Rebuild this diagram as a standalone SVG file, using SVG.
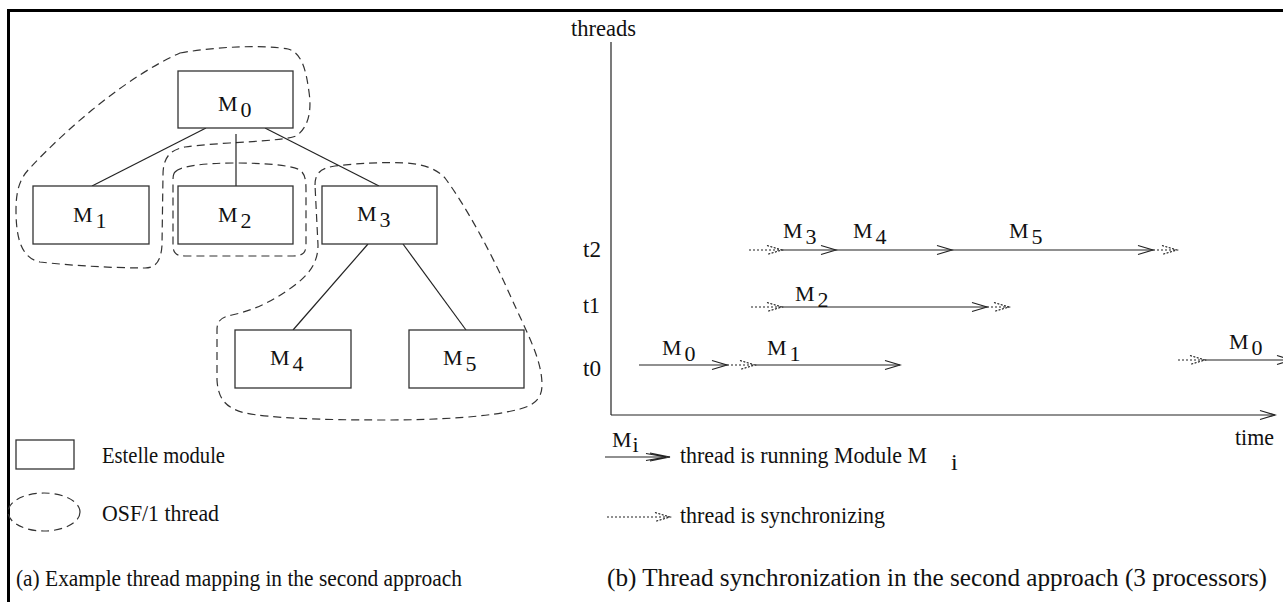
<svg xmlns="http://www.w3.org/2000/svg" width="1283" height="602" viewBox="0 0 1283 602">
<style>
text{font-family:"Liberation Serif","Times New Roman",serif;font-size:24px;fill:#111}
.lbl{font-size:22px}
.box{fill:#fff;stroke:#333;stroke-width:1.3}
.ln{stroke:#222;stroke-width:1.2;fill:none}
.dash{stroke:#333;stroke-width:1.2;fill:none;stroke-dasharray:8 5}
.run{stroke:#222;stroke-width:1.2;fill:none;marker-end:url(#ah)}
.sync{stroke:#222;stroke-width:1.2;fill:none;stroke-dasharray:2 2;marker-end:url(#ahd)}
</style>
<defs>
<marker id="ah" markerUnits="userSpaceOnUse" markerWidth="18" markerHeight="12" refX="16" refY="6" orient="auto">
<path d="M1,1.5 L16,6 L1,10.5" fill="none" stroke="#222" stroke-width="1.2"/>
</marker>
<marker id="ahd" markerUnits="userSpaceOnUse" markerWidth="18" markerHeight="12" refX="16" refY="6" orient="auto">
<path d="M1,1.5 L16,6 L1,10.5" fill="none" stroke="#222" stroke-width="1.2" stroke-dasharray="2 1.5"/>
</marker>
</defs>
<rect width="1283" height="602" fill="#fff"/>
<g id="frame">
<line x1="8" y1="10.5" x2="1283" y2="10.5" stroke="#000" stroke-width="3"/>
<line x1="8.5" y1="9" x2="8.5" y2="602" stroke="#000" stroke-width="3"/>
</g>
<g id="threads">
<path class="dash" d="M180,53 C220,46 265,45 288,49 C302,53 306,70 309,92 C312,112 308,128 296,136 C280,142 220,142 185,147 C168,150 163,160 163,175 L162,245 C161,262 155,268 145,268 C110,268 65,265 40,262 C22,258 16,240 16,210 C16,190 20,178 30,168 C70,125 130,75 180,53 Z"/>
<path class="dash" d="M175,172 C180,166 205,163 235,163 C265,163 290,165 300,170 C305,174 306,180 306,190 L306,245 C306,253 302,256 293,256 L185,256 C176,256 173,253 173,245 L173,182 C173,177 173,174 175,172 Z"/>
<path class="dash" d="M315,185 C315,172 322,168 335,166 C360,163 385,162 405,163 C425,164 438,170 445,178 C465,205 490,250 510,295 C528,335 542,360 542,385 C542,398 535,405 520,409 C490,417 440,420 385,420 C320,420 270,418 245,413 C225,408 218,398 217,380 L217,330 C217,320 222,317 232,315 C255,310 275,300 295,285 C312,272 318,260 318,245 Z"/>
</g>
<g id="edges">
<line class="ln" x1="206" y1="128" x2="92" y2="186"/>
<line class="ln" x1="236" y1="134" x2="236" y2="186"/>
<line class="ln" x1="265" y1="128" x2="379" y2="186"/>
<line class="ln" x1="368" y1="244" x2="293" y2="330"/>
<line class="ln" x1="403" y1="244" x2="466" y2="330"/>
</g>
<g id="M0"><rect class="box" x="178" y="71" width="115" height="57"/><text class="lbl" x="218" y="111">M<tspan dx="3" dy="6">0</tspan></text></g>
<g id="M1"><rect class="box" x="33" y="186" width="116" height="58"/><text class="lbl" x="73" y="222">M<tspan dx="3" dy="6">1</tspan></text></g>
<g id="M2"><rect class="box" x="178" y="186" width="115" height="58"/><text class="lbl" x="218" y="222">M<tspan dx="3" dy="6">2</tspan></text></g>
<g id="M3"><rect class="box" x="322" y="186" width="115" height="58"/><text class="lbl" x="357" y="221">M<tspan dx="3" dy="6">3</tspan></text></g>
<g id="M4"><rect class="box" x="235" y="330" width="116" height="58"/><text class="lbl" x="270" y="365">M<tspan dx="3" dy="6">4</tspan></text></g>
<g id="M5"><rect class="box" x="409" y="330" width="115" height="58"/><text class="lbl" x="443" y="365">M<tspan dx="3" dy="6">5</tspan></text></g>
<g id="legend-a">
<rect class="box" x="16" y="440" width="58" height="29"/>
<text x="102" y="463" textLength="123" lengthAdjust="spacingAndGlyphs">Estelle module</text>
<ellipse class="dash" cx="44" cy="512" rx="36" ry="19"/>
<text x="102" y="521" textLength="117" lengthAdjust="spacingAndGlyphs">OSF/1 thread</text>
<text x="16" y="586" textLength="446" lengthAdjust="spacingAndGlyphs">(a) Example thread mapping in the second approach</text>
</g>
<g id="axes">
<line class="ln" x1="611" y1="42" x2="611" y2="415"/>
<line class="run" x1="611" y1="415" x2="1275" y2="415"/>
<text x="571" y="36" textLength="65" lengthAdjust="spacingAndGlyphs">threads</text>
<text x="1235" y="445" textLength="39" lengthAdjust="spacingAndGlyphs">time</text>
<text x="583" y="257" textLength="18" lengthAdjust="spacingAndGlyphs">t2</text>
<text x="583" y="313" textLength="17" lengthAdjust="spacingAndGlyphs">t1</text>
<text x="583" y="376" textLength="18" lengthAdjust="spacingAndGlyphs">t0</text>
</g>
<g id="connectors">
<line class="sync" x1="749" y1="250" x2="782" y2="250"/>
<line class="run" x1="782" y1="250" x2="836" y2="250"/>
<line class="run" x1="836" y1="250" x2="952" y2="250"/>
<line class="run" x1="952" y1="250" x2="1153" y2="250"/>
<line class="sync" x1="1153" y1="250" x2="1177" y2="250"/>
<line class="sync" x1="751" y1="307" x2="782" y2="307"/>
<line class="run" x1="782" y1="307" x2="987" y2="307"/>
<line class="sync" x1="987" y1="307" x2="1009" y2="307"/>
<line class="run" x1="639" y1="365" x2="727" y2="365"/>
<line class="sync" x1="727" y1="365" x2="755" y2="365"/>
<line class="run" x1="755" y1="365" x2="900" y2="365"/>
<line class="sync" x1="1178" y1="360" x2="1205" y2="360"/>
<line class="run" x1="1205" y1="360" x2="1292" y2="360"/>
</g>
<g id="chart-labels">
<text class="lbl" x="783" y="238">M<tspan dx="3" dy="6">3</tspan></text>
<text class="lbl" x="853" y="238">M<tspan dx="3" dy="6">4</tspan></text>
<text class="lbl" x="1009" y="238">M<tspan dx="3" dy="6">5</tspan></text>
<text class="lbl" x="795" y="301">M<tspan dx="3" dy="6">2</tspan></text>
<text class="lbl" x="662" y="355">M<tspan dx="3" dy="6">0</tspan></text>
<text class="lbl" x="767" y="355">M<tspan dx="3" dy="6">1</tspan></text>
<text class="lbl" x="1229" y="349">M<tspan dx="3" dy="6">0</tspan></text>
</g>
<g id="legend-b">
<line class="ln" x1="605" y1="457" x2="670" y2="457"/>
<path class="ln" d="M650,453 L670,457 L650,461 M646,453.5 L666,457 L646,460.5"/>
<text class="lbl" x="612" y="447">M<tspan dx="1" dy="5">i</tspan></text>
<text x="680" y="463" textLength="247" lengthAdjust="spacingAndGlyphs">thread is running Module M</text>
<text x="951" y="470">i</text>
<line x1="607" y1="517" x2="670" y2="517" stroke="#222" stroke-width="1.2" stroke-dasharray="2 2" marker-end="url(#ahd)"/>
<text x="680" y="523" textLength="205" lengthAdjust="spacingAndGlyphs">thread is synchronizing</text>
<text x="607" y="586" style="font-size:25px" textLength="660" lengthAdjust="spacingAndGlyphs">(b) Thread synchronization in the second approach (3 processors)</text>
</g>
</svg>
